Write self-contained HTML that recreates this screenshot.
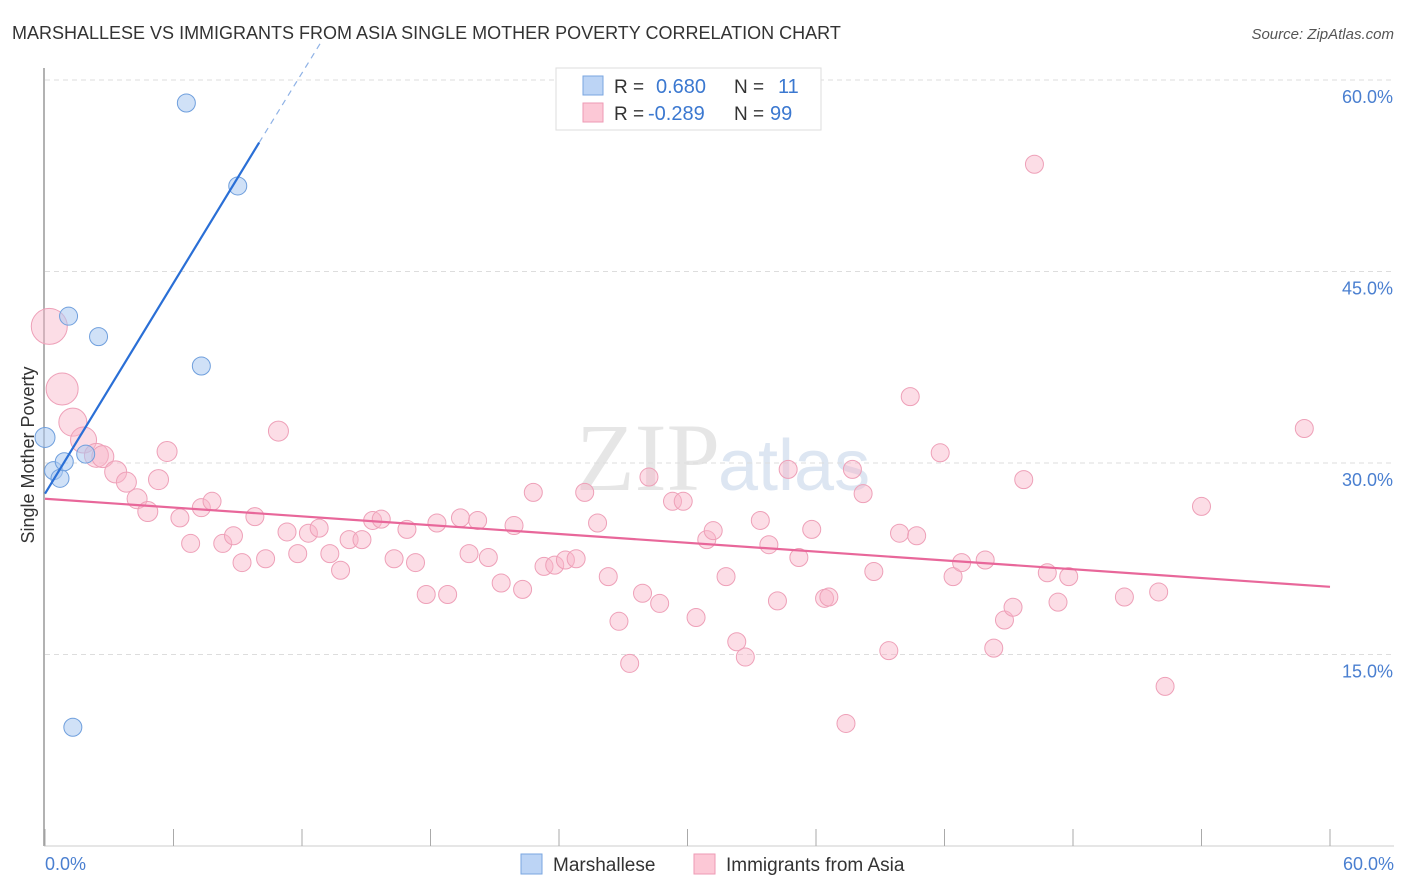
<!DOCTYPE html>
<html><head><meta charset="utf-8"><style>
body{margin:0;background:#fff;font-family:"Liberation Sans",sans-serif;}
svg{display:block}
</style></head><body>
<svg id="c" width="1406" height="892">
<text x="12" y="39" font-size="18" fill="#333">MARSHALLESE VS IMMIGRANTS FROM ASIA SINGLE MOTHER POVERTY CORRELATION CHART</text>
<text x="1394" y="39" font-size="15" fill="#555" font-style="italic" text-anchor="end">Source: ZipAtlas.com</text>
<text x="720" y="490" font-size="96" fill="#e6e6e6" font-family="Liberation Serif,serif" text-anchor="end">ZIP</text>
<text x="718" y="490" font-size="72" fill="#dde6f2">atlas</text>
<g id="grid"></g>
<g id="axes"></g>
<g id="pts"></g>
<g id="trend"></g>
<text transform="translate(34,455) rotate(-90)" font-size="18" fill="#333" text-anchor="middle">Single Mother Poverty</text>
<text x="45" y="870" font-size="18" fill="#4a7fd0">0.0%</text>
<text x="1394" y="870" font-size="18" fill="#4a7fd0" text-anchor="end">60.0%</text>
<g>
<rect x="556" y="68" width="265" height="62" fill="#fff" stroke="#ddd"/>
<rect x="583" y="76" width="20" height="19" fill="#bcd4f5" stroke="#7aa6e0"/>
<rect x="583" y="103" width="20" height="19" fill="#fcc8d6" stroke="#ee9ab4"/>
<text x="614" y="93" font-size="19" fill="#333">R = </text><text x="656" y="93" font-size="20" fill="#3b78d0">0.680</text>
<text x="734" y="93" font-size="19" fill="#333">N = </text><text x="778" y="93" font-size="20" fill="#3b78d0">11</text>
<text x="614" y="120" font-size="19" fill="#333">R = </text><text x="648" y="120" font-size="20" fill="#3b78d0">-0.289</text>
<text x="734" y="120" font-size="19" fill="#333">N = </text><text x="770" y="120" font-size="20" fill="#3b78d0">99</text>
</g>
<g>
<rect x="521" y="854" width="21" height="20" fill="#bcd4f5" stroke="#7aa6e0"/>
<text x="553" y="871" font-size="19" fill="#333">Marshallese</text>
<rect x="694" y="854" width="21" height="20" fill="#fcc8d6" stroke="#ee9ab4"/>
<text x="726" y="871" font-size="19" fill="#333">Immigrants from Asia</text>
</g>
</svg>
<script>
const yTicks=[15,30,45,60];
const xTickVals=[0,6,12,18,24,30,36,42,48,54,60];
const blueX=[0.0,0.4,0.7,0.9,1.9,1.1,2.5,6.6,9.0,7.3,1.3];
const blueY=[32.0,29.4,28.8,30.1,30.7,41.5,39.9,58.2,51.7,37.6,9.3];
const blueR=[10,9,9,9,9,9,9,9,9,9,9];
const pinkX=[0.2,0.8,1.3,1.8,2.4,2.7,3.3,3.8,4.3,4.8,5.3,5.7,6.3,6.8,7.3,7.8,8.3,8.8,9.2,9.8,10.3,10.9,11.3,11.8,12.3,12.8,13.3,13.8,14.2,14.8,15.3,15.7,16.3,16.9,17.3,17.8,18.3,18.8,19.4,19.8,20.2,20.7,21.3,21.9,22.3,22.8,23.3,23.8,24.3,24.8,25.2,25.8,26.3,26.8,27.3,27.9,28.2,28.7,29.3,29.8,30.4,30.9,31.2,31.8,32.3,32.7,33.4,33.8,34.2,34.7,35.2,35.8,36.4,36.6,37.4,37.7,38.2,38.7,39.4,39.9,40.4,40.7,41.8,42.4,42.8,43.9,44.3,44.8,45.2,45.7,46.2,46.8,47.3,47.8,50.4,52.0,52.3,54.0,58.8];
const pinkY=[40.7,35.8,33.2,31.8,30.6,30.5,29.3,28.5,27.2,26.2,28.7,30.9,25.7,23.7,26.5,27.0,23.7,24.3,22.2,25.8,22.5,32.5,24.6,22.9,24.5,24.9,22.9,21.6,24.0,24.0,25.5,25.6,22.5,24.8,22.2,19.7,25.3,19.7,25.7,22.9,25.5,22.6,20.6,25.1,20.1,27.7,21.9,22.0,22.4,22.5,27.7,25.3,21.1,17.6,14.3,19.8,28.9,19.0,27.0,27.0,17.9,24.0,24.7,21.1,16.0,14.8,25.5,23.6,19.2,29.5,22.6,24.8,19.4,19.5,9.6,29.5,27.6,21.5,15.3,24.5,35.2,24.3,30.8,21.1,22.2,22.4,15.5,17.7,18.7,28.7,53.4,21.4,19.1,21.1,19.5,19.9,12.5,26.6,32.7];
const pinkR=[18,16,14,13,12,11,11,10,10,10,10,10,9,9,9,9,9,9,9,9,9,10];
const blueTrend=[0,27.6,10,55.1,12.9,63];
const pinkTrend=[0,27.2,60,20.3];
const NS='http://www.w3.org/2000/svg';
const X=v=>45+v/60*1285;
const Y=v=>846-v/15*191.5;
function mk(t,a,p){const e=document.createElementNS(NS,t);for(const k in a)e.setAttribute(k,a[k]);p.appendChild(e);return e;}
const grid=document.getElementById('grid'),axes=document.getElementById('axes'),pts=document.getElementById('pts'),tr=document.getElementById('trend');
yTicks.forEach(t=>{
 const l=mk('line',{x1:45,x2:1394,y1:Y(t),y2:Y(t),stroke:'#ddd','stroke-dasharray':'5,4'},grid);
 
 
 const tx=mk('text',{x:1393,y:Y(t)+23,'font-size':18,fill:'#4a7fd0','text-anchor':'end'},grid);
 tx.textContent=t.toFixed(1)+'%';
 
 
});
const ax=mk('line',{x1:44,x2:44,y1:68,y2:846,stroke:'#999','stroke-width':1.5},axes);


const bx=mk('line',{x1:44,x2:1394,y1:846,y2:846,stroke:'#ccc'},axes);


xTickVals.forEach(t=>{
 const l=mk('line',{x1:X(t),x2:X(t),y1:829,y2:846,stroke:'#aaa'},axes);
 
 
});
pinkX.forEach((v,i)=>{
 const c=mk('circle',{cx:X(v),cy:Y(pinkY[i]),r:pinkR[i]||9,fill:'rgba(248,180,200,0.45)',stroke:'#eea0b8','stroke-width':1},pts);
 
 
});
blueX.forEach((v,i)=>{
 const c=mk('circle',{cx:X(v),cy:Y(blueY[i]),r:blueR[i],fill:'rgba(170,200,240,0.55)',stroke:'#6f9fdd','stroke-width':1},pts);
 
 
});
const b1=mk('line',{x1:X(blueTrend[0]),y1:Y(blueTrend[1]),x2:X(blueTrend[2]),y2:Y(blueTrend[3]),stroke:'#2a6fd6','stroke-width':2.2},tr);


const b2=mk('line',{x1:X(blueTrend[2]),y1:Y(blueTrend[3]),x2:X(blueTrend[4]),y2:Y(blueTrend[5]),stroke:'#8fb2e6','stroke-width':1.2,'stroke-dasharray':'6,5'},tr);


const p1=mk('line',{x1:X(pinkTrend[0]),y1:Y(pinkTrend[1]),x2:X(pinkTrend[2]),y2:Y(pinkTrend[3]),stroke:'#e8679a','stroke-width':2.2},tr);


</script>
</body></html>
